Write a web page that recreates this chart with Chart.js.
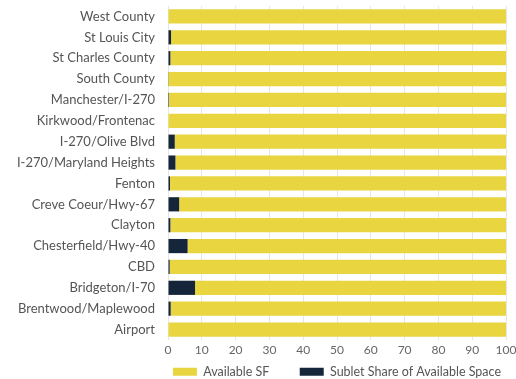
<!DOCTYPE html>
<html>
<head>
<meta charset="utf-8">
<script src="https://cdn.jsdelivr.net/npm/chart.js@4"></script>
<style>
  body { margin: 0; background: #fff; }
  #wrap { width: 516px; height: 379px; }
</style>
</head>
<body>
<div id="wrap"><canvas id="grafico" width="516" height="379"></canvas></div>
<script>
// submercados
const submercados = [
    'West County', 'St Louis City', 'St Charles County', 'South County',
    'Manchester/I-270', 'Kirkwood/Frontenac', 'I-270/Olive Blvd', 'I-270/Maryland Heights',
    'Fenton', 'Creve Coeur/Hwy-67', 'Clayton', 'Chesterfield/Hwy-40',
    'CBD', 'Bridgeton/I-70', 'Brentwood/Maplewood', 'Airport'
];

// porcentaje de subarriendo sobre el espacio disponible
const subarriendo = [0, 0.9, 0.7, 0.1, 0.3, 0, 2.0, 2.2, 0.6, 3.3, 0.7, 5.8, 0.5, 8.0, 0.8, 0];

// el resto hasta 100 es espacio disponible
const disponible = [100, 99.1, 99.3, 99.9, 99.7, 100, 98.0, 97.8, 99.4, 96.7, 99.3, 94.2, 99.5, 92.0, 99.2, 100];

const ticksX = [0, 10, 20, 30, 40, 50, 60, 70, 80, 90, 100];

const ctx = document.getElementById('grafico').getContext('2d');

// espacio extra entre los dos items de la leyenda
ctx.font = '12.5px Lato';
const anchoEspacio = ctx.measureText('\u00A0').width || 3;
const relleno = '\u00A0'.repeat(Math.round(24 / anchoEspacio));

const grafico = new Chart(ctx, {
    type: 'bar',
    data: {
        labels: submercados,
        datasets: [
            {
                label: 'Sublet Share of Available Space',
                data: subarriendo,
                backgroundColor: '#15263b',
                barPercentage: 0.68,
                categoryPercentage: 1
            },
            {
                label: 'Available SF',
                data: disponible,
                backgroundColor: '#e8d540',
                barPercentage: 0.68,
                categoryPercentage: 1
            }
        ]
    },
    options: {
        indexAxis: 'y',
        responsive: false,
        animation: false,
        layout: {
            padding: { top: 6, right: 10, left: 4, bottom: 0 }
        },
        scales: {
            x: {
                stacked: true,
                min: 0,
                max: 100,
                afterBuildTicks: function(axis) {
                    axis.ticks = ticksX.map(v => ({ value: v }));
                },
                afterFit: function(axis) {
                    axis.height = 20.5;
                    axis.paddingLeft = 0;
                    axis.paddingRight = 0;
                },
                grid: { color: '#e6e6e6', drawTicks: false },
                border: { display: false },
                ticks: {
                    color: '#666',
                    padding: 3,
                    font: { family: 'Lato', size: 12 }
                }
            },
            y: {
                stacked: true,
                afterFit: function(axis) {
                    axis.width = 164;
                    axis.paddingTop = 0;
                    axis.paddingBottom = 0;
                },
                grid: { display: false, drawTicks: true, tickLength: 13 },
                border: { display: false },
                ticks: {
                    color: '#555',
                    padding: 0,
                    autoSkip: false,
                    font: { family: 'Lato', size: 13 }
                }
            }
        },
        plugins: {
            legend: {
                position: 'bottom',
                align: 'end',
                reverse: true,
                maxHeight: 18.5,
                labels: {
                    color: '#555',
                    boxWidth: 24,
                    boxHeight: 8,
                    padding: 5,
                    font: { family: 'Lato', size: 12.5 },
                    generateLabels: function(chart) {
                        const items = Chart.defaults.plugins.legend.labels.generateLabels(chart);
                        items.forEach(it => {
                            if (it.datasetIndex === 1) it.text = it.text + relleno;
                        });
                        return items;
                    }
                }
            },
            tooltip: { enabled: false }
        }
    }
});
</script>
</body>
</html>
